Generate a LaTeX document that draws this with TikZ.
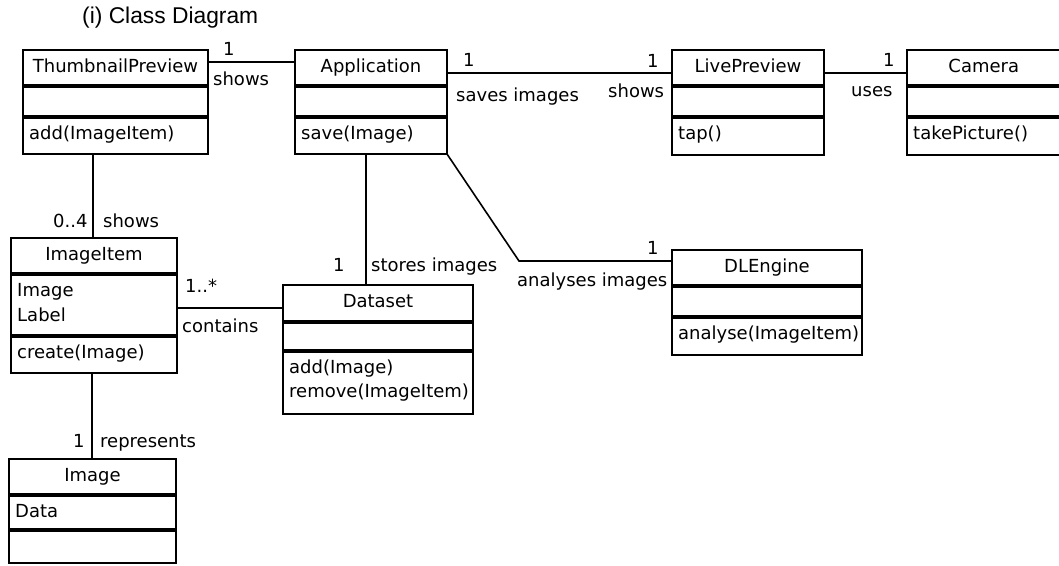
\documentclass[tikz,border=0pt]{standalone}
\usepackage{fontspec}
\setmainfont{DejaVu Sans}
\newfontfamily\headfont{Liberation Sans}
\usetikzlibrary{fit,calc}

\tikzset{
  classframe/.style={draw, line width=1.8pt, inner sep=0pt, outer sep=0pt},
  divider/.style={line width=3.4pt},
  member/.style={inner sep=0pt, font=\fontsize{18}{24}\selectfont},
  assoc/.style={line width=1.6pt},
  lbl/.style={inner sep=0pt, anchor=base west, font=\fontsize{18}{24}\selectfont},
}

% UML class: name, left, top, right, bottom, first divider, second divider, title
\newcommand{\umlclass}[8]{%
  \coordinate (#1-nw) at (#2,#3);
  \coordinate (#1-se) at (#4,#5);
  \node[classframe, fit=(#1-nw)(#1-se)] (#1) {};
  \draw[divider] (#1.west |- 0,#6) -- (#1.east |- 0,#6);
  \draw[divider] (#1.west |- 0,#7) -- (#1.east |- 0,#7);
  \node[member, anchor=base] (#1-title) at ($(#1.north)+(0,22)$) {#8};
  \coordinate (#1-attr) at ($(#1.west |- 0,#6)+(6,22)$);
  \coordinate (#1-ops) at ($(#1.west |- 0,#7)+(6,22)$);
}

\begin{document}
\begin{tikzpicture}[x=1pt, y=-1pt]
\path[use as bounding box, fill=white] (0,0) rectangle (1059,565);

\node[inner sep=0pt, anchor=base west, font=\headfont\fontsize{22.8}{26}\selectfont]
  (heading) at (82,23) {(i) Class Diagram};

% classes
\umlclass{tp}{23}{50}{208}{154}{86}{117}{ThumbnailPreview}
\node[member, anchor=base west] (tp-o1) at (tp-ops) {add(ImageItem)};

\umlclass{app}{295}{50}{447}{154}{86}{117}{Application}
\node[member, anchor=base west] (app-o1) at (app-ops) {save(Image)};

\umlclass{lp}{672}{50}{824}{155}{86}{117}{LivePreview}
\node[member, anchor=base west] (lp-o1) at (lp-ops) {tap()};

\umlclass{cam}{907}{50}{1060.5}{155}{86}{117}{Camera}
\node[member, anchor=base west] (cam-o1) at (cam-ops) {takePicture()};

\umlclass{dl}{672}{250}{862}{355}{286}{317}{DLEngine}
\node[member, anchor=base west] (dl-o1) at (dl-ops) {analyse(ImageItem)};

\umlclass{ds}{283}{285}{473}{414}{322}{351}{Dataset}
\node[member, anchor=base west] (ds-o1) at (ds-ops) {add(Image)};
\node[member, anchor=base west] (ds-o2) at ($(ds-ops)+(0,24)$) {remove(ImageItem)};

\umlclass{ii}{11}{238}{177}{373}{274}{336}{ImageItem}
\node[member, anchor=base west] (ii-a1) at (ii-attr) {Image};
\node[member, anchor=base west] (ii-a2) at ($(ii-attr)+(0,25)$) {Label};
\node[member, anchor=base west] (ii-o1) at (ii-ops) {create(Image)};

\umlclass{img}{9}{459}{176}{563}{495}{530}{Image}
\node[member, anchor=base west] (img-a1) at (img-attr) {Data};

% associations
\draw[assoc] (tp.east |- 0,62) -- (app.west |- 0,62);
\draw[assoc] (app.east |- 0,73) -- (lp.west |- 0,73);
\draw[assoc] (lp.east |- 0,73) -- (cam.west |- 0,73);
\draw[assoc] (tp.south -| 93,0) -- (ii.north -| 93,0);
\draw[assoc] (app.south -| 366,0) -- (ds.north -| 366,0);
\coordinate (bend) at (519,261);
\draw[assoc] (app.south east) -- (bend) -- (dl.west |- bend);
\draw[assoc] (ii.east |- 0,308) -- (ds.west |- 0,308);
\draw[assoc] (ii.south -| 92,0) -- (img.north -| 92,0);

% multiplicities and roles
\node[lbl] (m1) at (223,55) {1};
\node[lbl] (r1) at (213,85) {shows};
\node[lbl] (m2) at (463,66) {1};
\node[lbl] (r2) at (456,101) {saves images};
\node[lbl] (m3) at (647,67) {1};
\node[lbl] (r3) at (608,97) {shows};
\node[lbl] (m4) at (883,66) {1};
\node[lbl] (r4) at (851,96) {uses};
\node[lbl] (m5) at (647,254) {1};
\node[lbl] (r5) at (517,286) {analyses images};
\node[lbl] (m6) at (53,227) {0..4};
\node[lbl] (r6) at (103,227) {shows};
\node[lbl] (m7) at (333,271) {1};
\node[lbl] (r7) at (371,271) {stores images};
\node[lbl] (m8) at (185,292) {1..*};
\node[lbl] (r8) at (182,332) {contains};
\node[lbl] (m9) at (73,447) {1};
\node[lbl] (r9) at (100,447) {represents};
\end{tikzpicture}
\end{document}
